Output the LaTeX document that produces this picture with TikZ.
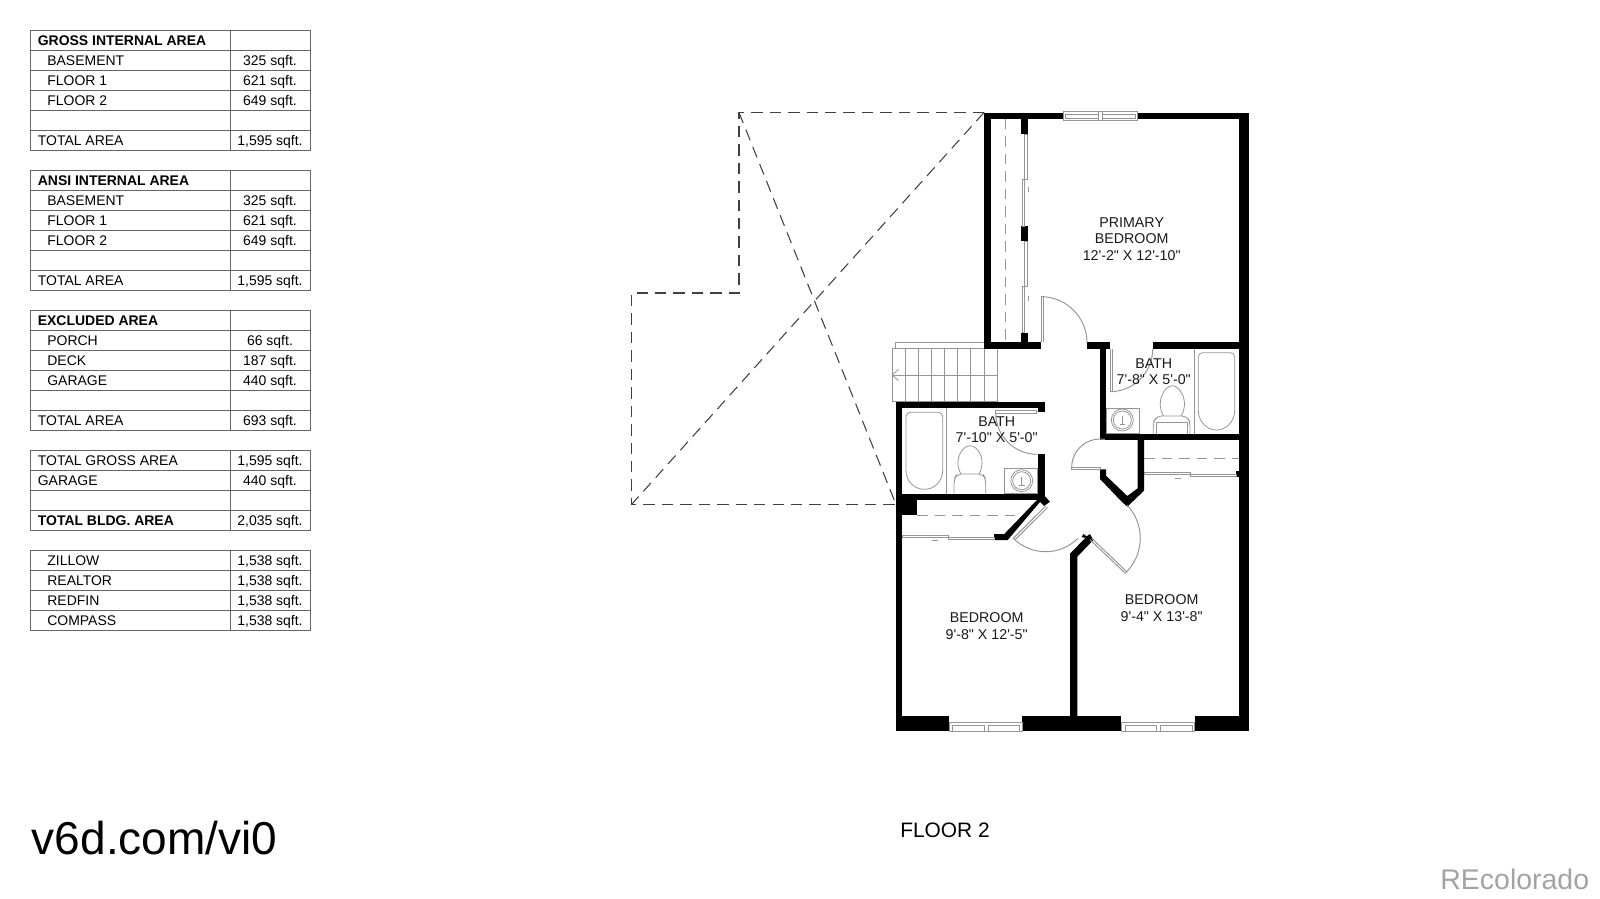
\documentclass[tikz,border=0pt]{standalone}
\usepackage{xcolor}
\usepackage{fontspec}
\newfontfamily\planfont{Liberation Sans}
\definecolor{rulegray}{HTML}{666666}
\definecolor{fixturegray}{HTML}{959595}
\definecolor{markgray}{HTML}{A3A3A3}
\tikzset{
  tablerule/.style={draw=rulegray,line width=0.55pt},
  tabletext/.style={anchor=base west,yshift=0.3pt,font=\planfont\fontsize{7.95}{9.4}\selectfont},
  tablehead/.style={anchor=base west,yshift=0.3pt,font=\planfont\bfseries\fontsize{7.95}{9.4}\selectfont},
  tablevalue/.style={anchor=base,yshift=0.3pt,font=\planfont\fontsize{7.95}{9.4}\selectfont},
  roomlabel/.style={align=center,text=black!90,yshift=-0.5pt,font=\planfont\fontsize{8.1}{9.4}\selectfont},
  wall/.style={fill=black},
  fixture/.style={draw=fixturegray,line width=0.45pt},
  doorline/.style={draw=fixturegray,line width=0.55pt},
  hidden/.style={draw=black!75,line width=0.6pt,dash pattern=on 6.5pt off 4pt},
  closetline/.style={draw=fixturegray,line width=0.55pt,dash pattern=on 6pt off 4pt}
}
\begin{document}
\begin{tikzpicture}[x=0.02cm,y=0.02cm]
\tikzstyle{every node}+=[inner sep=0pt]
\useasboundingbox (0,0) rectangle (1600,-899);
% first table
\draw [tablerule] (30,-30) rectangle (310,-150);
\draw [tablerule] (230,-30) -- (230,-150);
\draw [tablerule] (30,-50) -- (310,-50);
\draw [tablerule] (30,-70) -- (310,-70);
\draw [tablerule] (30,-90) -- (310,-90);
\draw [tablerule] (30,-110) -- (310,-110);
\draw [tablerule] (30,-130) -- (310,-130);
\node (grossHead) [tablehead] at (37.5,-46) {GROSS INTERNAL AREA};
\node (grossBase) [tabletext] at (47,-66) {BASEMENT};
\node (grossBaseVal) [tablevalue] at (270,-66) {325 sqft.};
\node (grossOne) [tabletext] at (47,-86) {FLOOR 1};
\node (grossOneVal) [tablevalue] at (270,-86) {621 sqft.};
\node (grossTwo) [tabletext] at (47,-106) {FLOOR 2};
\node (grossTwoVal) [tablevalue] at (270,-106) {649 sqft.};
\node (grossTotal) [tabletext] at (37.5,-146) {TOTAL AREA};
\node (grossTotalVal) [tablevalue] at (270,-146) {1,595 sqft.};
% second table
\draw [tablerule] (30,-170) rectangle (310,-290);
\draw [tablerule] (230,-170) -- (230,-290);
\draw [tablerule] (30,-190) -- (310,-190);
\draw [tablerule] (30,-210) -- (310,-210);
\draw [tablerule] (30,-230) -- (310,-230);
\draw [tablerule] (30,-250) -- (310,-250);
\draw [tablerule] (30,-270) -- (310,-270);
\node (ansiHead) [tablehead] at (37.5,-186) {ANSI INTERNAL AREA};
\node (ansiBase) [tabletext] at (47,-206) {BASEMENT};
\node (ansiBaseVal) [tablevalue] at (270,-206) {325 sqft.};
\node (ansiOne) [tabletext] at (47,-226) {FLOOR 1};
\node (ansiOneVal) [tablevalue] at (270,-226) {621 sqft.};
\node (ansiTwo) [tabletext] at (47,-246) {FLOOR 2};
\node (ansiTwoVal) [tablevalue] at (270,-246) {649 sqft.};
\node (ansiTotal) [tabletext] at (37.5,-286) {TOTAL AREA};
\node (ansiTotalVal) [tablevalue] at (270,-286) {1,595 sqft.};
% third table
\draw [tablerule] (30,-310) rectangle (310,-430);
\draw [tablerule] (230,-310) -- (230,-430);
\draw [tablerule] (30,-330) -- (310,-330);
\draw [tablerule] (30,-350) -- (310,-350);
\draw [tablerule] (30,-370) -- (310,-370);
\draw [tablerule] (30,-390) -- (310,-390);
\draw [tablerule] (30,-410) -- (310,-410);
\node (exclHead) [tablehead] at (37.5,-326) {EXCLUDED AREA};
\node (exclPorch) [tabletext] at (47,-346) {PORCH};
\node (exclPorchVal) [tablevalue] at (270,-346) {66 sqft.};
\node (exclDeck) [tabletext] at (47,-366) {DECK};
\node (exclDeckVal) [tablevalue] at (270,-366) {187 sqft.};
\node (exclGarage) [tabletext] at (47,-386) {GARAGE};
\node (exclGarageVal) [tablevalue] at (270,-386) {440 sqft.};
\node (exclTotal) [tabletext] at (37.5,-426) {TOTAL AREA};
\node (exclTotalVal) [tablevalue] at (270,-426) {693 sqft.};
% fourth table
\draw [tablerule] (30,-450) rectangle (310,-530);
\draw [tablerule] (230,-450) -- (230,-530);
\draw [tablerule] (30,-470) -- (310,-470);
\draw [tablerule] (30,-490) -- (310,-490);
\draw [tablerule] (30,-510) -- (310,-510);
\node (sumGross) [tabletext] at (37.5,-466) {TOTAL GROSS AREA};
\node (sumGrossVal) [tablevalue] at (270,-466) {1,595 sqft.};
\node (sumGarage) [tabletext] at (37.5,-486) {GARAGE};
\node (sumGarageVal) [tablevalue] at (270,-486) {440 sqft.};
\node (sumBldg) [tablehead] at (37.5,-526) {TOTAL BLDG. AREA};
\node (sumBldgVal) [tablevalue] at (270,-526) {2,035 sqft.};
% fifth table
\draw [tablerule] (30,-550) rectangle (310,-630);
\draw [tablerule] (230,-550) -- (230,-630);
\draw [tablerule] (30,-570) -- (310,-570);
\draw [tablerule] (30,-590) -- (310,-590);
\draw [tablerule] (30,-610) -- (310,-610);
\node (siteZillow) [tabletext] at (47,-566) {ZILLOW};
\node (siteZillowVal) [tablevalue] at (270,-566) {1,538 sqft.};
\node (siteRealtor) [tabletext] at (47,-586) {REALTOR};
\node (siteRealtorVal) [tablevalue] at (270,-586) {1,538 sqft.};
\node (siteRedfin) [tabletext] at (47,-606) {REDFIN};
\node (siteRedfinVal) [tablevalue] at (270,-606) {1,538 sqft.};
\node (siteCompass) [tabletext] at (47,-626) {COMPASS};
\node (siteCompassVal) [tablevalue] at (270,-626) {1,538 sqft.};
% open to below
\draw [hidden] (984,-112.5) -- (739,-112.5) -- (739,-293) -- (631.5,-293) -- (631.5,-504.5) -- (896,-504.5);
\draw [hidden] (739,-112.5) -- (896,-504.5);
\draw [hidden] (984,-112.5) -- (631.5,-504.5);
% stairs
\draw [fixture] (892.3,-348.7) rectangle (997,-401.7);
\draw [fixture] (905.3,-348.7) -- (905.3,-401.7);
\draw [fixture] (918.3,-348.7) -- (918.3,-401.7);
\draw [fixture] (931.3,-348.7) -- (931.3,-401.7);
\draw [fixture] (944.3,-348.7) -- (944.3,-401.7);
\draw [fixture] (957.3,-348.7) -- (957.3,-401.7);
\draw [fixture] (970.7,-348.7) -- (970.7,-401.7);
\draw [fixture] (984,-348.7) -- (984,-401.7);
\draw [fixture] (997,-375) -- (892.3,-375);
\draw [fixture] (898.3,-369.5) -- (892.3,-375) -- (898.3,-380.5);
\draw [doorline] (895.3,-342.3) rectangle (984.3,-348.7);
% walls
\fill [wall] (984,-112.5) rectangle (1063,-118.5);
\fill [wall] (1137,-112.5) rectangle (1248.7,-118.5);
\fill [wall] (984.3,-112.5) rectangle (990.5,-348.7);
\fill [wall] (1239,-112.5) rectangle (1248.7,-731.3);
\fill [wall] (984.3,-342.3) rectangle (1041,-348.7);
\fill [wall] (1087,-342.3) rectangle (1110,-348.7);
\fill [wall] (1152.7,-342.3) rectangle (1239,-348.7);
\fill [wall] (1021.3,-118.5) rectangle (1027.7,-134);
\fill [wall] (1021.3,-226) rectangle (1027.7,-241.3);
\fill [wall] (1021.3,-332.7) rectangle (1027.7,-342.3);
\fill [wall] (1100,-342.3) rectangle (1106,-440.3);
\fill [wall] (1100,-433.7) rectangle (1239,-440.3);
\fill [wall] (1100,-469.3) -- (1106,-469.3) -- (1106,-475.7) -- (1127.3,-496) -- (1137.7,-488.3) -- (1137.7,-440) -- (1144,-440) -- (1144,-490.7) -- (1127.3,-506.7) -- (1121.7,-501.7) -- (1100,-479) -- cycle;
\fill [wall] (895.7,-401.7) rectangle (1044.7,-408.3);
\fill [wall] (1037.7,-408.3) rectangle (1044.7,-411.7);
\fill [wall] (1037.7,-454) rectangle (1044.7,-500);
\fill [wall] (895.7,-401.7) rectangle (902,-731.3);
\fill [wall] (895.7,-493.7) rectangle (1040,-500.3);
\fill [wall] (895.7,-500) rectangle (917.3,-515);
\fill [wall] (1037.7,-496) -- (1044.7,-496) -- (1050,-501.7) -- (1044,-506) -- (1040,-502) -- (1007.7,-540) -- (994,-540) -- (994,-534) -- (1004.3,-534) -- (1037,-500) -- cycle;
\fill [wall] (1070,-716) -- (1070,-553.7) -- (1085.3,-538) -- (1081.7,-537) -- (1083.3,-534) -- (1086.7,-536.3) -- (1090,-534) -- (1093.3,-540) -- (1077.3,-556.7) -- (1077.3,-716) -- cycle;
\fill [wall] (895.7,-715.7) rectangle (949.3,-731.3);
\fill [wall] (1022.3,-715.7) rectangle (1121.3,-731.3);
\fill [wall] (1194.7,-715.7) rectangle (1248.7,-731.3);
\fill [wall] (1235.7,-471) rectangle (1239,-477);
% windows
\draw [fixture] (1063,-111) rectangle (1137,-120.3);
\draw [fixture] (1065,-114) rectangle (1098,-118);
\draw [fixture] (1102,-114) rectangle (1135,-118);
\draw [fixture] (1098,-111) -- (1098,-120.3);
\draw [fixture] (1102,-111) -- (1102,-120.3);
\draw [fixture] (949.3,-722) rectangle (1022.3,-731.3);
\draw [fixture] (952.5,-725) rectangle (984,-731.3);
\draw [fixture] (988,-725) rectangle (1019,-731.3);
\draw [fixture] (1121.3,-722) rectangle (1194.7,-731.3);
\draw [fixture] (1125,-725) rectangle (1156,-731.3);
\draw [fixture] (1160,-725) rectangle (1192,-731.3);
% closets
\draw [closetline] (1005.7,-118.5) -- (1005.7,-342.3);
\draw [fixture] (1024.5,-134) rectangle (1027,-179.5);
\draw [fixture] (1022,-179.5) rectangle (1024.5,-226);
\draw [fixture] (1024.5,-241.3) rectangle (1027,-286.7);
\draw [fixture] (1022,-286.7) rectangle (1024.5,-332.7);
\draw [fixture] (1028.3,-187) -- (1028.3,-192);
\draw [fixture] (1028.3,-296) -- (1028.3,-301);
\draw [closetline] (1144,-458.3) -- (1239,-458.3);
\draw [fixture] (1144,-472) rectangle (1190,-474);
\draw [fixture] (1190,-474) rectangle (1236,-476);
\draw [fixture] (1175,-478) -- (1181,-478);
\draw [closetline] (917,-515) -- (1020,-515);
\draw [fixture] (902,-535) rectangle (948.3,-537.5);
\draw [fixture] (948.3,-537) rectangle (994,-539.5);
\draw [fixture] (932,-540.7) -- (938,-540.7);
% doors
\draw [doorline] (1041,-342) -- (1041,-296.7) -- (1043.3,-296.7) -- (1043.3,-342);
\draw [doorline] (1041,-296.7) arc (90:0:46);
\draw [doorline] (1110,-348.7) -- (1110,-391.7) -- (1112,-391.7) -- (1112,-348.7);
\draw [doorline] (1110,-391.7) arc (-90:0:42.7);
\draw [doorline] (995.7,-410) rectangle (1036.7,-413);
\draw [doorline] (995.7,-413) arc (180:270:41.3);
\draw [doorline] (1071.7,-467.3) rectangle (1100,-469.3);
\draw [doorline] (1071.7,-467.3) arc (180:80:28.3);
\draw [doorline] (1045.7,-506) -- (1013.3,-538.3) -- (1015.3,-539.5) -- (1047.5,-507.5);
\draw [doorline] (1013.3,-538.3) arc (225:315:45.7);
\draw [doorline] (1091.7,-538.3) -- (1126.7,-571.7) -- (1125,-573) -- (1090,-539.7);
\draw [doorline] (1126.7,-571.7) arc (-44:43:48.3);
% bath fixtures, right side
\draw [fixture] (1194.3,-348.7) -- (1194.3,-433.7);
\draw [fixture] (1198.3,-410) -- (1198.3,-357) arc (180:90:4.3) -- (1230.4,-352.7) arc (90:0:4.3) -- (1234.7,-410) .. controls (1234.7,-422) and (1226,-430) .. (1216.5,-430) .. controls (1207,-430) and (1198.3,-422) .. cycle;
\draw [fixture] (1163.5,-416) .. controls (1155,-402) and (1164.5,-385.7) .. (1172.3,-385.7) .. controls (1180,-385.7) and (1190,-402) .. (1181,-416);
\draw [fixture,rounded corners=2.5pt] (1153.3,-433.7) -- (1153.3,-422) -- (1157,-416) -- (1186.5,-416) -- (1190,-422) -- (1190,-433.7);
\draw [fixture] (1156,-433.7) -- (1156,-422) -- (1187,-422) -- (1187,-433.7);
\draw [fixture] (1106,-408.7) rectangle (1139.3,-433.7);
\draw [fixture] (1122.3,-420) circle (11);
\draw [fixture] (1122.3,-420) circle (9);
\draw [fixture] (1122.3,-416) -- (1122.3,-424);
\draw [fixture] (1119.5,-424) -- (1125,-424);
% bath fixtures, left side
\draw [fixture] (946.7,-408.3) -- (946.7,-493.7);
\draw [fixture] (906,-470) -- (906,-416.6) arc (180:90:4.3) -- (938.4,-412.3) arc (90:0:4.3) -- (942.7,-470) .. controls (942.7,-482) and (934,-489.3) .. (924.3,-489.3) .. controls (914.7,-489.3) and (906,-482) .. cycle;
\draw [fixture] (961,-474) .. controls (953,-460) and (962,-445.7) .. (970,-445.7) .. controls (978,-445.7) and (987,-460) .. (979,-474);
\draw [fixture,rounded corners=3pt] (954,-493.7) -- (954,-479) -- (957,-474) -- (983,-474) -- (985.7,-479) -- (985.7,-493.7);
\draw [fixture] (1004.3,-468.7) rectangle (1037.7,-493.7);
\draw [fixture] (1021.7,-480.7) circle (11);
\draw [fixture] (1021.7,-480.7) circle (9);
\draw [fixture] (1021.7,-477) -- (1021.7,-485);
\draw [fixture] (1019,-485) -- (1024.5,-485);
% room labels
\node (primaryLabel) [roomlabel] at (1131.7,-238) {PRIMARY\\BEDROOM\\12'-2" X 12'-10"};
\node (bathRightLabel) [roomlabel] at (1153.7,-371) {BATH\\7'-8" X 5'-0"};
\node (bathLeftLabel) [roomlabel] at (996.7,-429) {BATH\\7'-10" X 5'-0"};
\node (bedLeftLabel) [roomlabel] at (986.7,-625) {BEDROOM\\9'-8" X 12'-5"};
\node (bedRightLabel) [roomlabel] at (1161.7,-607) {BEDROOM\\9'-4" X 13'-8"};
\node (floorLabel) [font=\planfont\fontsize{11.9}{14}\selectfont] at (945,-830) {FLOOR 2};
\node (linkLabel) [anchor=base west,font=\planfont\fontsize{26.2}{30}\selectfont] at (31.5,-854) {v6d.com/vi0};
\node (brandLabel) [anchor=base east,text=markgray,font=\planfont\fontsize{16.2}{18}\selectfont] at (1589.5,-889) {REcolorado};
\end{tikzpicture}
\end{document}
